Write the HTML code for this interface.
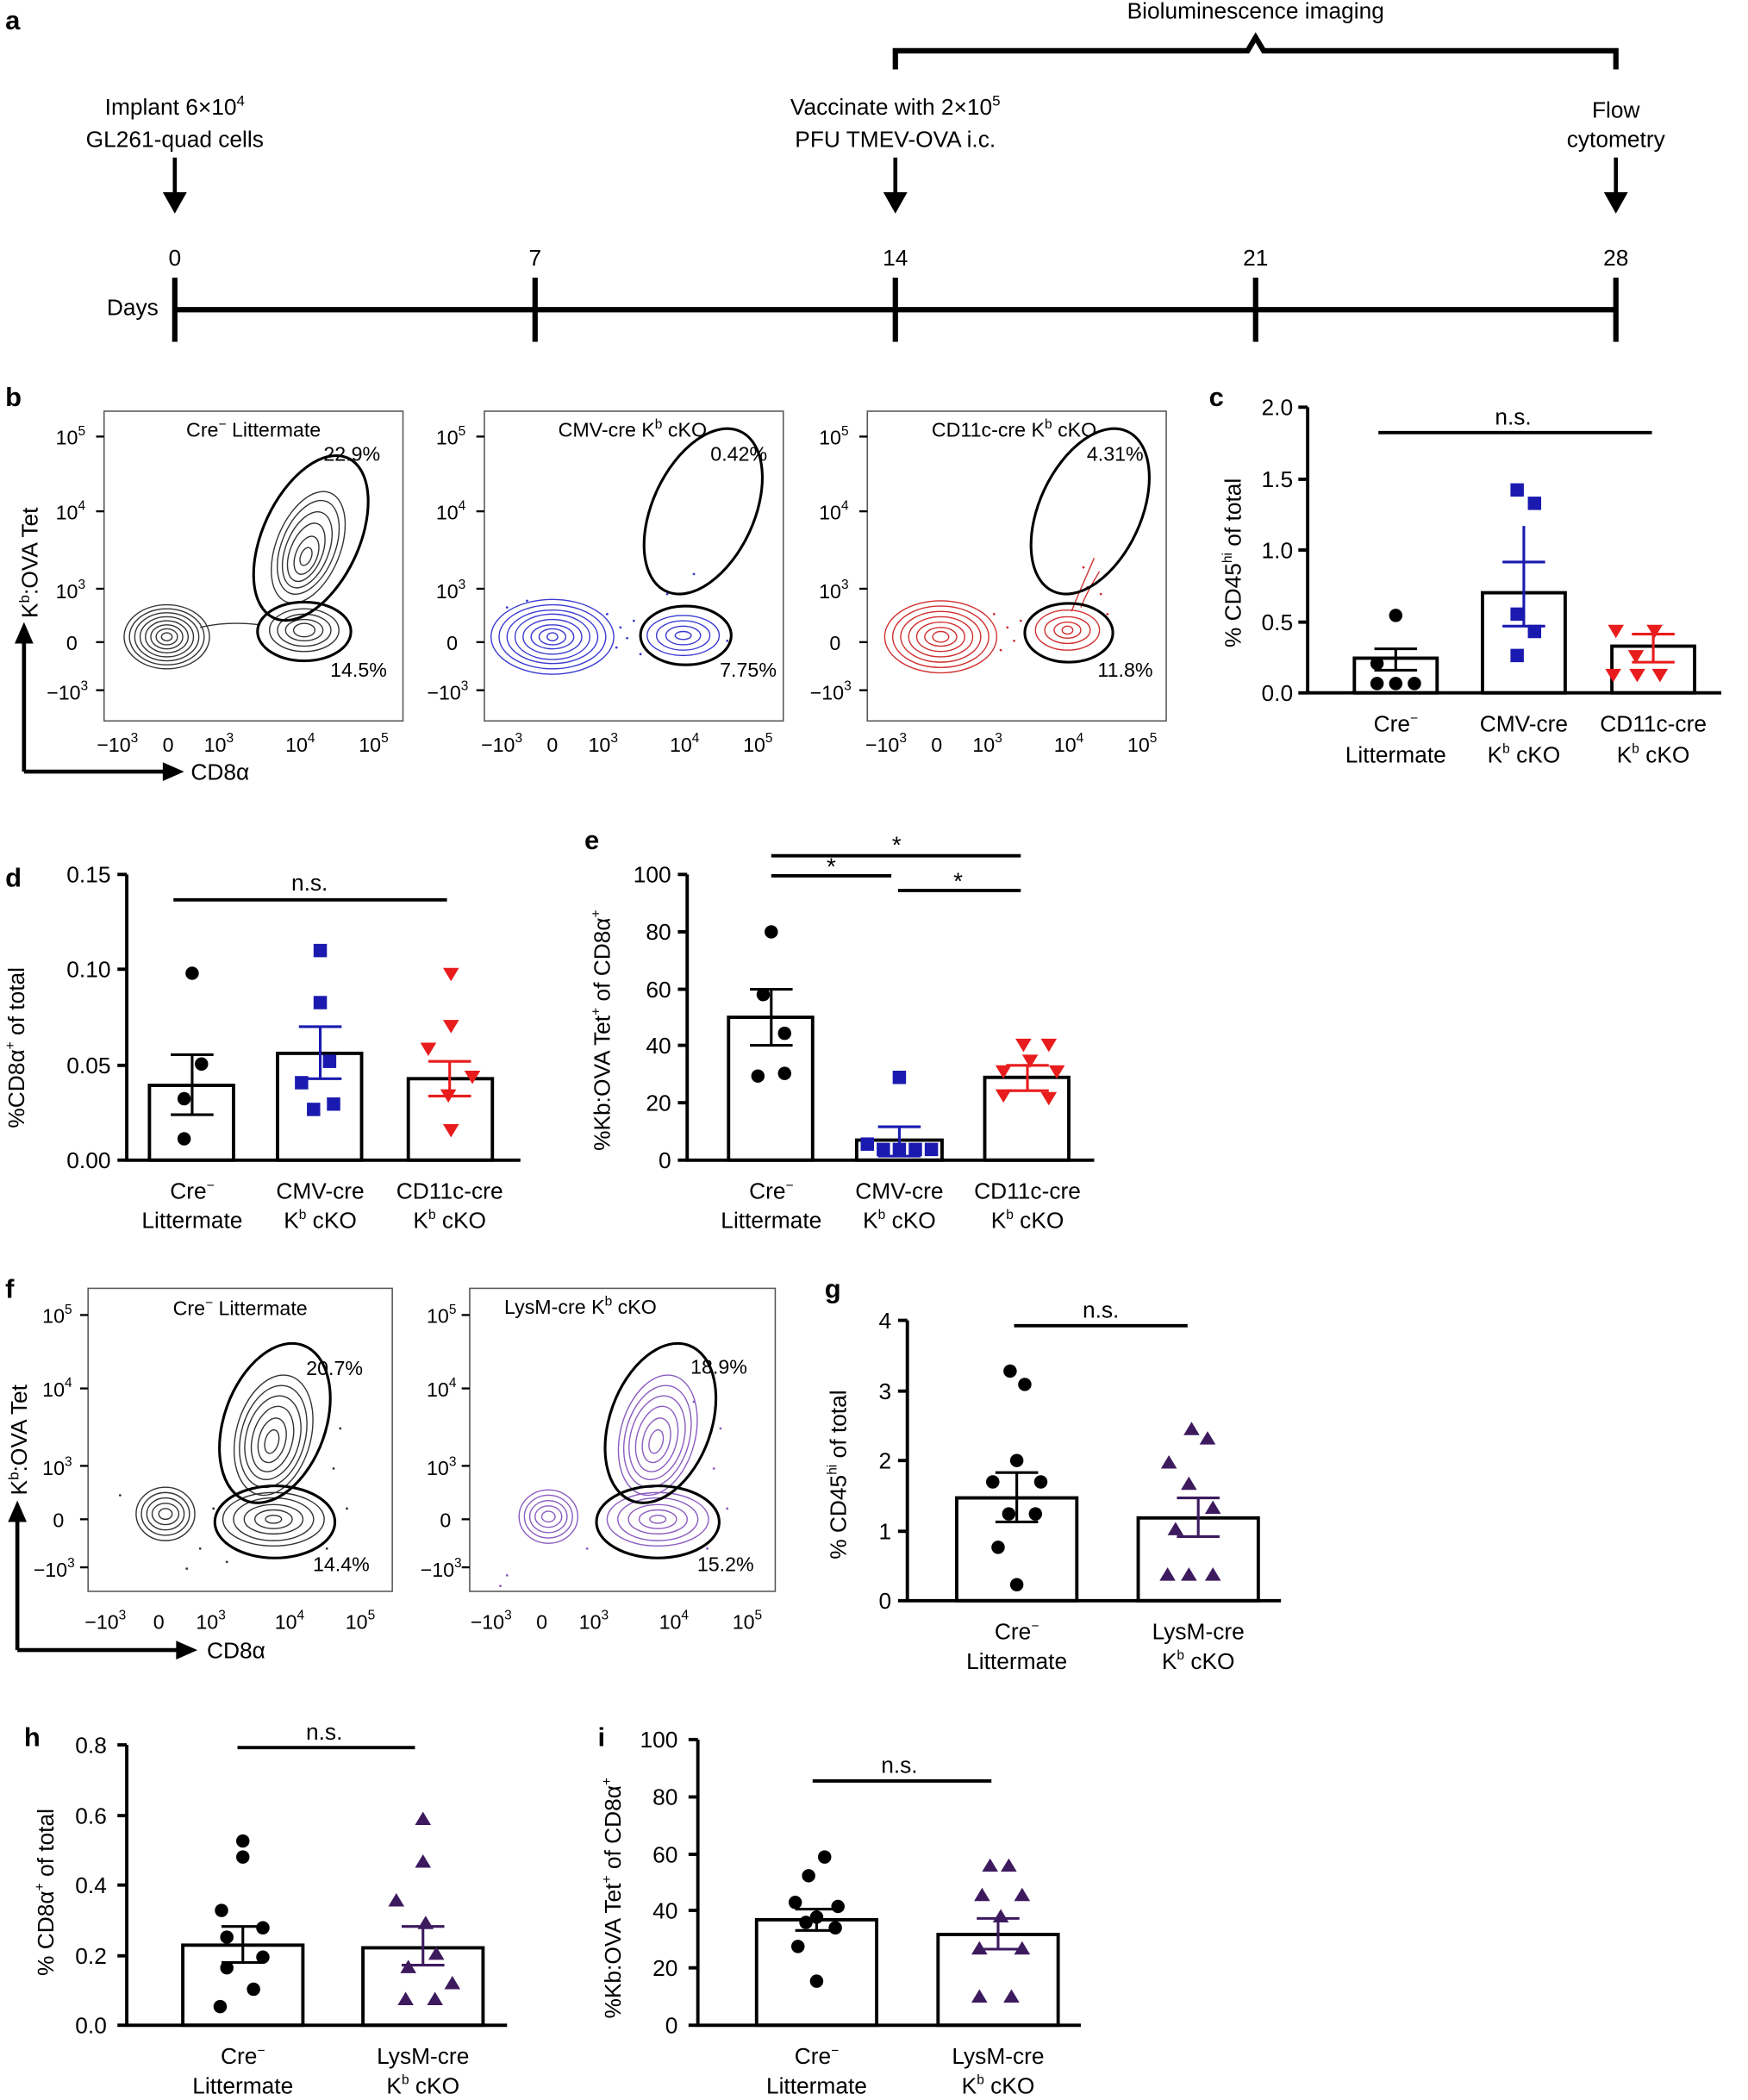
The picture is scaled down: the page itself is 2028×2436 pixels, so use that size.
<!DOCTYPE html>
<html><head><meta charset="utf-8"><style>
html,body{margin:0;padding:0;background:#fff}
svg{display:block}
text{font-family:"Liberation Sans",Arial,sans-serif;fill:#000}
</style></head><body>
<svg xmlns="http://www.w3.org/2000/svg" width="2028" height="2436" viewBox="0 0 1310 1573" preserveAspectRatio="none">
<!-- Panel a -->
<text x="4" y="22" font-size="20" font-weight="bold">a</text>
<text x="941" y="14" font-size="17" text-anchor="middle">Bioluminescence imaging</text>
<path d="M671,52 V38 H935 L941,28 L947,38 H1211 V52" fill="none" stroke="#000" stroke-width="4"/>
<text x="131" y="86" font-size="17" text-anchor="middle">Implant 6×10<tspan font-size="11" dy="-7">4</tspan></text>
<text x="131" y="110" font-size="17" text-anchor="middle">GL261-quad cells</text>
<text x="671" y="86" font-size="17" text-anchor="middle">Vaccinate with 2×10<tspan font-size="11" dy="-7">5</tspan></text>
<text x="671" y="110" font-size="17" text-anchor="middle">PFU TMEV-OVA i.c.</text>
<text x="1211" y="88" font-size="17" text-anchor="middle">Flow</text>
<text x="1211" y="110" font-size="17" text-anchor="middle">cytometry</text>
<g stroke="#000" stroke-width="3"><line x1="131" y1="118" x2="131" y2="146"/><line x1="671" y1="118" x2="671" y2="146"/><line x1="1211" y1="118" x2="1211" y2="146"/></g>
<g fill="#000"><path d="M122,144 L140,144 L131,160z"/><path d="M662,144 L680,144 L671,160z"/><path d="M1202,144 L1220,144 L1211,160z"/></g>
<g font-size="17" text-anchor="middle"><text x="131" y="199">0</text><text x="401" y="199">7</text><text x="671" y="199">14</text><text x="941" y="199">21</text><text x="1211" y="199">28</text></g>
<text x="80" y="236" font-size="17">Days</text>
<g stroke="#000" stroke-width="4"><line x1="131" y1="232" x2="1211" y2="232"/><line x1="131" y1="208" x2="131" y2="256"/><line x1="401" y1="208" x2="401" y2="256"/><line x1="671" y1="208" x2="671" y2="256"/><line x1="941" y1="208" x2="941" y2="256"/><line x1="1211" y1="208" x2="1211" y2="256"/></g>

<!-- Panel b -->
<text x="4" y="304" font-size="20" font-weight="bold">b</text>
<g fill="none" stroke-width="1">
 <rect x="78" y="308" width="224" height="232" stroke="#555"/>
 <rect x="363" y="308" width="224" height="232" stroke="#555"/>
 <rect x="650" y="308" width="224" height="232" stroke="#555"/>
</g>
<g stroke="#000" stroke-width="1.5">
 <line x1="72" y1="327" x2="78" y2="327"/><line x1="72" y1="383" x2="78" y2="383"/><line x1="72" y1="441" x2="78" y2="441"/><line x1="72" y1="481" x2="78" y2="481"/><line x1="72" y1="517" x2="78" y2="517"/>
 <line x1="357" y1="327" x2="363" y2="327"/><line x1="357" y1="383" x2="363" y2="383"/><line x1="357" y1="441" x2="363" y2="441"/><line x1="357" y1="481" x2="363" y2="481"/><line x1="357" y1="517" x2="363" y2="517"/>
 <line x1="644" y1="327" x2="650" y2="327"/><line x1="644" y1="383" x2="650" y2="383"/><line x1="644" y1="441" x2="650" y2="441"/><line x1="644" y1="481" x2="650" y2="481"/><line x1="644" y1="517" x2="650" y2="517"/>
</g>
<g font-size="15" text-anchor="end">
 <text x="64" y="333">10<tspan font-size="10" dy="-7">5</tspan></text><text x="64" y="389">10<tspan font-size="10" dy="-7">4</tspan></text><text x="64" y="448">10<tspan font-size="10" dy="-7">3</tspan></text><text x="58" y="487">0</text><text x="66" y="524">−10<tspan font-size="10" dy="-7">3</tspan></text>
 <text x="349" y="333">10<tspan font-size="10" dy="-7">5</tspan></text><text x="349" y="389">10<tspan font-size="10" dy="-7">4</tspan></text><text x="349" y="448">10<tspan font-size="10" dy="-7">3</tspan></text><text x="343" y="487">0</text><text x="351" y="524">−10<tspan font-size="10" dy="-7">3</tspan></text>
 <text x="636" y="333">10<tspan font-size="10" dy="-7">5</tspan></text><text x="636" y="389">10<tspan font-size="10" dy="-7">4</tspan></text><text x="636" y="448">10<tspan font-size="10" dy="-7">3</tspan></text><text x="630" y="487">0</text><text x="638" y="524">−10<tspan font-size="10" dy="-7">3</tspan></text>
</g>
<g font-size="15" text-anchor="middle">
 <text x="88" y="563">−10<tspan font-size="10" dy="-7">3</tspan></text><text x="126" y="563">0</text><text x="164" y="563">10<tspan font-size="10" dy="-7">3</tspan></text><text x="225" y="563">10<tspan font-size="10" dy="-7">4</tspan></text><text x="280" y="563">10<tspan font-size="10" dy="-7">5</tspan></text>
 <text x="376" y="563">−10<tspan font-size="10" dy="-7">3</tspan></text><text x="414" y="563">0</text><text x="452" y="563">10<tspan font-size="10" dy="-7">3</tspan></text><text x="513" y="563">10<tspan font-size="10" dy="-7">4</tspan></text><text x="568" y="563">10<tspan font-size="10" dy="-7">5</tspan></text>
 <text x="664" y="563">−10<tspan font-size="10" dy="-7">3</tspan></text><text x="702" y="563">0</text><text x="740" y="563">10<tspan font-size="10" dy="-7">3</tspan></text><text x="801" y="563">10<tspan font-size="10" dy="-7">4</tspan></text><text x="856" y="563">10<tspan font-size="10" dy="-7">5</tspan></text>
</g>
<g font-size="15" text-anchor="middle">
 <text x="190" y="327">Cre<tspan font-size="10" dy="-6">−</tspan><tspan dy="6"> Littermate</tspan></text>
 <text x="474" y="327">CMV-cre K<tspan font-size="10" dy="-6">b</tspan><tspan dy="6"> cKO</tspan></text>
 <text x="760" y="327">CD11c-cre K<tspan font-size="10" dy="-6">b</tspan><tspan dy="6"> cKO</tspan></text>
</g>
<g font-size="15" text-anchor="end">
 <text x="285" y="345">22.9%</text><text x="290" y="507">14.5%</text>
 <text x="575" y="345">0.42%</text><text x="582" y="507">7.75%</text>
 <text x="857" y="345">4.31%</text><text x="864" y="507">11.8%</text>
</g>
<!-- contours b -->
<g fill="none" stroke="#333" stroke-width="0.9">
 <ellipse cx="125" cy="477" rx="32" ry="24"/><ellipse cx="125" cy="477" rx="28" ry="21"/><ellipse cx="125" cy="477" rx="24" ry="18"/><ellipse cx="125" cy="477" rx="20" ry="15"/><ellipse cx="125" cy="477" rx="16" ry="12"/><ellipse cx="125" cy="477" rx="12" ry="9"/><ellipse cx="125" cy="477" rx="8" ry="6"/><ellipse cx="125" cy="477" rx="4" ry="3"/>
 <g transform="rotate(22 231 410)"><ellipse cx="231" cy="410" rx="24" ry="44"/><ellipse cx="231" cy="410" rx="20" ry="37"/><ellipse cx="231" cy="412" rx="16" ry="30"/><ellipse cx="231" cy="414" rx="12" ry="23"/><ellipse cx="232" cy="416" rx="8" ry="15"/><ellipse cx="232" cy="417" rx="4" ry="7"/></g>
 <ellipse cx="228" cy="472" rx="26" ry="16"/><ellipse cx="228" cy="472" rx="20" ry="12"/><ellipse cx="228" cy="472" rx="14" ry="8"/><ellipse cx="228" cy="472" rx="8" ry="5"/>
 <path d="M150,470 Q170,465 195,468" />
</g>
<g fill="none" stroke="#3a3ad0" stroke-width="0.9">
 <ellipse cx="414" cy="477" rx="46" ry="28"/><ellipse cx="414" cy="477" rx="40" ry="24"/><ellipse cx="414" cy="477" rx="34" ry="20"/><ellipse cx="414" cy="477" rx="28" ry="17"/><ellipse cx="414" cy="477" rx="22" ry="13"/><ellipse cx="414" cy="477" rx="16" ry="9"/><ellipse cx="414" cy="477" rx="10" ry="6"/><ellipse cx="414" cy="477" rx="4" ry="3"/>
 <ellipse cx="512" cy="476" rx="27" ry="15"/><ellipse cx="512" cy="476" rx="20" ry="11"/><ellipse cx="512" cy="476" rx="13" ry="7"/><ellipse cx="512" cy="476" rx="6" ry="3"/>
</g>
<g fill="#3a3ad0"><circle cx="465" cy="470" r="0.9"/><circle cx="470" cy="478" r="0.9"/><circle cx="475" cy="465" r="0.9"/><circle cx="462" cy="485" r="0.9"/><circle cx="480" cy="490" r="0.9"/><circle cx="540" cy="462" r="0.9"/><circle cx="545" cy="480" r="0.9"/><circle cx="500" cy="445" r="0.9"/><circle cx="520" cy="430" r="0.9"/><circle cx="380" cy="455" r="0.9"/><circle cx="395" cy="450" r="0.9"/><circle cx="455" cy="460" r="0.9"/></g>
<g fill="none" stroke="#d03030" stroke-width="0.9">
 <ellipse cx="705" cy="477" rx="42" ry="27"/><ellipse cx="705" cy="477" rx="36" ry="23"/><ellipse cx="705" cy="477" rx="30" ry="19"/><ellipse cx="705" cy="477" rx="24" ry="15"/><ellipse cx="705" cy="477" rx="18" ry="11"/><ellipse cx="705" cy="477" rx="12" ry="7"/><ellipse cx="705" cy="477" rx="6" ry="4"/>
 <ellipse cx="800" cy="472" rx="24" ry="15"/><ellipse cx="800" cy="472" rx="17" ry="10"/><ellipse cx="800" cy="472" rx="10" ry="6"/><ellipse cx="800" cy="472" rx="4" ry="3"/>
 <path d="M803,458 C808,445 814,432 820,418 M810,455 C814,445 818,438 824,428" />
</g>
<g fill="#d03030"><circle cx="755" cy="470" r="0.9"/><circle cx="760" cy="480" r="0.9"/><circle cx="765" cy="465" r="0.9"/><circle cx="750" cy="487" r="0.9"/><circle cx="815" cy="440" r="0.9"/><circle cx="825" cy="445" r="0.9"/><circle cx="812" cy="425" r="0.9"/><circle cx="830" cy="460" r="0.9"/><circle cx="745" cy="460" r="0.9"/></g>
<g fill="none" stroke="#000" stroke-width="2">
 <ellipse cx="233" cy="403" rx="36" ry="66" transform="rotate(25 233 403)"/><ellipse cx="228" cy="473" rx="35" ry="22"/>
 <ellipse cx="527" cy="383" rx="38" ry="66" transform="rotate(25 527 383)"/><ellipse cx="514" cy="476" rx="34" ry="22"/>
 <ellipse cx="817" cy="383" rx="38" ry="66" transform="rotate(25 817 383)"/><ellipse cx="801" cy="474" rx="33" ry="22"/>
</g>
<g stroke="#000" stroke-width="3"><line x1="18" y1="578" x2="18" y2="478"/><line x1="18" y1="578" x2="124" y2="578"/></g>
<path d="M11,482 L25,482 L18,466z M122,571 L122,585 L138,578z" fill="#000"/>
<text x="143" y="584" font-size="17">CD8α</text>
<text transform="translate(28,463) rotate(-90)" font-size="17">K<tspan font-size="11" dy="-6">b</tspan><tspan dy="6">:OVA Tet</tspan></text>

<g font-size="17">
<!-- Panel c -->
<text x="906" y="304" font-size="20" font-weight="bold">c</text>
<g stroke="#000" stroke-width="2.5" fill="none">
 <line x1="980" y1="305" x2="980" y2="520"/><line x1="979" y1="519" x2="1290" y2="519"/>
 <line x1="973" y1="305" x2="980" y2="305"/><line x1="973" y1="359" x2="980" y2="359"/><line x1="973" y1="412" x2="980" y2="412"/><line x1="973" y1="466" x2="980" y2="466"/><line x1="973" y1="519" x2="980" y2="519"/>
 <rect x="1015" y="493" width="62" height="26"/><rect x="1111" y="444" width="62" height="75"/><rect x="1208" y="484" width="62" height="35"/>
 <line x1="1033" y1="324" x2="1238" y2="324"/>
</g>
<g text-anchor="end"><text x="969" y="311">2.0</text><text x="969" y="365">1.5</text><text x="969" y="418">1.0</text><text x="969" y="472">0.5</text><text x="969" y="525">0.0</text></g>
<text x="1134" y="318" text-anchor="middle">n.s.</text>
<text transform="translate(930,485) rotate(-90)">% CD45<tspan font-size="10" dy="-7">hi</tspan><tspan dy="7"> of total</tspan></text>
<g stroke-width="2" fill="none">
 <path d="M1046,486 V502 M1030,486 H1062 M1030,502 H1062" stroke="#000"/>
 <path d="M1142,394 V469 M1126,421 H1158 M1126,469 H1158" stroke="#1a1ab0"/>
 <path d="M1239,475 V496 M1223,475 H1255 M1223,496 H1255" stroke="#e81c1c"/>
</g>
<g fill="#000"><circle cx="1046" cy="461" r="5"/><circle cx="1032" cy="497" r="5"/><circle cx="1046" cy="512" r="5"/><circle cx="1060" cy="512" r="5"/><circle cx="1032" cy="512" r="5"/></g>
<g fill="#1a1ab0"><rect x="1132" y="362" width="10" height="10"/><rect x="1145" y="372" width="10" height="10"/><rect x="1132" y="455" width="10" height="10"/><rect x="1145" y="468" width="10" height="10"/><rect x="1132" y="486" width="10" height="10"/></g>
<g fill="#e81c1c"><path d="M1205,468 h12 l-6,10z M1234,468 h12 l-6,10z M1220,487 h12 l-6,10z M1203,501 h12 l-6,10z M1221,501 h12 l-6,10z M1238,501 h12 l-6,10z"/></g>
<g text-anchor="middle"><text x="1046" y="548">Cre<tspan font-size="10" dy="-7">−</tspan></text><text x="1046" y="571">Littermate</text>
<text x="1142" y="548">CMV-cre</text><text x="1142" y="571">K<tspan font-size="10" dy="-7">b</tspan><tspan dy="7"> cKO</tspan></text>
<text x="1239" y="548">CD11c-cre</text><text x="1239" y="571">K<tspan font-size="10" dy="-7">b</tspan><tspan dy="7"> cKO</tspan></text></g>

<!-- Panel d -->
<text x="4" y="664" font-size="20" font-weight="bold">d</text>
<g stroke="#000" stroke-width="2.5" fill="none">
 <line x1="95" y1="655" x2="95" y2="870"/><line x1="94" y1="869" x2="390" y2="869"/>
 <line x1="88" y1="655" x2="95" y2="655"/><line x1="88" y1="726" x2="95" y2="726"/><line x1="88" y1="798" x2="95" y2="798"/><line x1="88" y1="869" x2="95" y2="869"/>
 <rect x="112" y="813" width="63" height="56"/><rect x="208" y="789" width="63" height="80"/><rect x="306" y="808" width="63" height="61"/>
 <line x1="130" y1="674" x2="335" y2="674"/>
</g>
<g text-anchor="end"><text x="83" y="661">0.15</text><text x="83" y="732">0.10</text><text x="83" y="804">0.05</text><text x="83" y="875">0.00</text></g>
<text x="232" y="667" text-anchor="middle">n.s.</text>
<text transform="translate(18,845) rotate(-90)">%CD8α<tspan font-size="10" dy="-7">+</tspan><tspan dy="7"> of total</tspan></text>
<g stroke-width="2" fill="none">
 <path d="M144,790 V835 M128,790 H160 M128,835 H160" stroke="#000"/>
 <path d="M240,769 V808 M224,769 H256 M224,808 H256" stroke="#1a1ab0"/>
 <path d="M337,795 V821 M321,795 H353 M321,821 H353" stroke="#e81c1c"/>
</g>
<g fill="#000"><circle cx="144" cy="729" r="5"/><circle cx="151" cy="797" r="5"/><circle cx="138" cy="823" r="5"/><circle cx="138" cy="853" r="5"/></g>
<g fill="#1a1ab0"><rect x="235" y="707" width="10" height="10"/><rect x="235" y="746" width="10" height="10"/><rect x="242" y="790" width="10" height="10"/><rect x="221" y="806" width="10" height="10"/><rect x="245" y="822" width="10" height="10"/><rect x="230" y="826" width="10" height="10"/></g>
<g fill="#e81c1c"><path d="M332,725 h12 l-6,10z M332,764 h12 l-6,10z M315,781 h12 l-6,10z M348,802 h12 l-6,10z M330,816 h12 l-6,10z M332,842 h12 l-6,10z"/></g>
<g text-anchor="middle"><text x="144" y="898">Cre<tspan font-size="10" dy="-7">−</tspan></text><text x="144" y="920">Littermate</text>
<text x="240" y="898">CMV-cre</text><text x="240" y="920">K<tspan font-size="10" dy="-7">b</tspan><tspan dy="7"> cKO</tspan></text>
<text x="337" y="898">CD11c-cre</text><text x="337" y="920">K<tspan font-size="10" dy="-7">b</tspan><tspan dy="7"> cKO</tspan></text></g>

<!-- Panel e -->
<text x="438" y="636" font-size="20" font-weight="bold">e</text>
<g stroke="#000" stroke-width="2.5" fill="none">
 <line x1="515" y1="655" x2="515" y2="870"/><line x1="514" y1="869" x2="820" y2="869"/>
 <line x1="508" y1="655" x2="515" y2="655"/><line x1="508" y1="698" x2="515" y2="698"/><line x1="508" y1="741" x2="515" y2="741"/><line x1="508" y1="783" x2="515" y2="783"/><line x1="508" y1="826" x2="515" y2="826"/><line x1="508" y1="869" x2="515" y2="869"/>
 <rect x="546" y="762" width="63" height="107"/><rect x="642" y="854" width="64" height="15"/><rect x="738" y="807" width="63" height="62"/>
 <line x1="578" y1="641" x2="765" y2="641"/><line x1="578" y1="656" x2="668" y2="656"/><line x1="673" y1="667" x2="765" y2="667"/>
</g>
<g text-anchor="end"><text x="503" y="661">100</text><text x="503" y="704">80</text><text x="503" y="747">60</text><text x="503" y="789">40</text><text x="503" y="832">20</text><text x="503" y="875">0</text></g>
<g text-anchor="middle" font-size="18"><text x="672" y="639">*</text><text x="623" y="655">*</text><text x="718" y="666">*</text></g>
<text transform="translate(457,862) rotate(-90)">%Kb:OVA Tet<tspan font-size="10" dy="-7">+</tspan><tspan dy="7"> of CD8α</tspan><tspan font-size="10" dy="-7">+</tspan></text>
<g stroke-width="2" fill="none">
 <path d="M578,741 V783 M562,741 H594 M562,783 H594" stroke="#000"/>
 <path d="M674,844 V866 M658,844 H690 M658,866 H690" stroke="#1a1ab0"/>
 <path d="M770,798 V817 M754,798 H786 M754,817 H786" stroke="#e81c1c"/>
</g>
<g fill="#000"><circle cx="578" cy="698" r="5"/><circle cx="572" cy="745" r="5"/><circle cx="588" cy="774" r="5"/><circle cx="568" cy="806" r="5"/><circle cx="588" cy="804" r="5"/></g>
<g fill="#1a1ab0"><rect x="669" y="802" width="10" height="10"/><rect x="645" y="852" width="10" height="10"/><rect x="657" y="856" width="10" height="10"/><rect x="669" y="856" width="10" height="10"/><rect x="681" y="856" width="10" height="10"/><rect x="693" y="856" width="10" height="10"/></g>
<g fill="#e81c1c"><path d="M761,778 h12 l-6,10z M780,778 h12 l-6,10z M766,790 h12 l-6,10z M746,798 h12 l-6,10z M786,798 h12 l-6,10z M746,816 h12 l-6,10z M780,818 h12 l-6,10z"/></g>
<g text-anchor="middle"><text x="578" y="898">Cre<tspan font-size="10" dy="-7">−</tspan></text><text x="578" y="920">Littermate</text>
<text x="674" y="898">CMV-cre</text><text x="674" y="920">K<tspan font-size="10" dy="-7">b</tspan><tspan dy="7"> cKO</tspan></text>
<text x="770" y="898">CD11c-cre</text><text x="770" y="920">K<tspan font-size="10" dy="-7">b</tspan><tspan dy="7"> cKO</tspan></text></g>
</g>

<!-- Panel f -->
<text x="4" y="972" font-size="20" font-weight="bold">f</text>
<g fill="none" stroke="#555" stroke-width="1"><rect x="66" y="965" width="228" height="227"/><rect x="352" y="965" width="229" height="227"/></g>
<g stroke="#000" stroke-width="1.5">
 <line x1="60" y1="985" x2="66" y2="985"/><line x1="60" y1="1040" x2="66" y2="1040"/><line x1="60" y1="1098" x2="66" y2="1098"/><line x1="60" y1="1138" x2="66" y2="1138"/><line x1="60" y1="1174" x2="66" y2="1174"/>
 <line x1="346" y1="985" x2="352" y2="985"/><line x1="346" y1="1040" x2="352" y2="1040"/><line x1="346" y1="1098" x2="352" y2="1098"/><line x1="346" y1="1138" x2="352" y2="1138"/><line x1="346" y1="1174" x2="352" y2="1174"/>
</g>
<g font-size="15" text-anchor="end">
 <text x="54" y="991">10<tspan font-size="10" dy="-7">5</tspan></text><text x="54" y="1046">10<tspan font-size="10" dy="-7">4</tspan></text><text x="54" y="1105">10<tspan font-size="10" dy="-7">3</tspan></text><text x="48" y="1144">0</text><text x="56" y="1181">−10<tspan font-size="10" dy="-7">3</tspan></text>
 <text x="342" y="991">10<tspan font-size="10" dy="-7">5</tspan></text><text x="342" y="1046">10<tspan font-size="10" dy="-7">4</tspan></text><text x="342" y="1105">10<tspan font-size="10" dy="-7">3</tspan></text><text x="338" y="1144">0</text><text x="346" y="1181">−10<tspan font-size="10" dy="-7">3</tspan></text>
</g>
<g font-size="15" text-anchor="middle">
 <text x="79" y="1220">−10<tspan font-size="10" dy="-7">3</tspan></text><text x="119" y="1220">0</text><text x="158" y="1220">10<tspan font-size="10" dy="-7">3</tspan></text><text x="217" y="1220">10<tspan font-size="10" dy="-7">4</tspan></text><text x="270" y="1220">10<tspan font-size="10" dy="-7">5</tspan></text>
 <text x="368" y="1220">−10<tspan font-size="10" dy="-7">3</tspan></text><text x="406" y="1220">0</text><text x="445" y="1220">10<tspan font-size="10" dy="-7">3</tspan></text><text x="505" y="1220">10<tspan font-size="10" dy="-7">4</tspan></text><text x="560" y="1220">10<tspan font-size="10" dy="-7">5</tspan></text>
</g>
<g font-size="15">
 <text x="180" y="985" text-anchor="middle">Cre<tspan font-size="10" dy="-6">−</tspan><tspan dy="6"> Littermate</tspan></text>
 <text x="435" y="984" text-anchor="middle">LysM-cre K<tspan font-size="10" dy="-6">b</tspan><tspan dy="6"> cKO</tspan></text>
 <text x="272" y="1030" text-anchor="end">20.7%</text><text x="277" y="1177" text-anchor="end">14.4%</text>
 <text x="560" y="1029" text-anchor="end">18.9%</text><text x="565" y="1177" text-anchor="end">15.2%</text>
</g>
<g fill="none" stroke="#333" stroke-width="0.9">
 <ellipse cx="124" cy="1134" rx="22" ry="20"/><ellipse cx="124" cy="1134" rx="18" ry="16"/><ellipse cx="124" cy="1134" rx="14" ry="12"/><ellipse cx="124" cy="1134" rx="10" ry="8"/><ellipse cx="124" cy="1134" rx="5" ry="4"/>
 <g transform="rotate(15 205 1075)"><ellipse cx="205" cy="1075" rx="28" ry="46"/><ellipse cx="205" cy="1076" rx="24" ry="39"/><ellipse cx="205" cy="1077" rx="20" ry="32"/><ellipse cx="205" cy="1078" rx="15" ry="25"/><ellipse cx="205" cy="1079" rx="10" ry="17"/><ellipse cx="205" cy="1080" rx="5" ry="9"/></g>
 <ellipse cx="205" cy="1138" rx="38" ry="20"/><ellipse cx="205" cy="1138" rx="30" ry="16"/><ellipse cx="205" cy="1138" rx="22" ry="11"/><ellipse cx="205" cy="1138" rx="14" ry="7"/><ellipse cx="205" cy="1138" rx="6" ry="3"/>
</g>
<g fill="#333"><circle cx="90" cy="1120" r="0.9"/><circle cx="150" cy="1160" r="0.9"/><circle cx="160" cy="1130" r="0.9"/><circle cx="250" cy="1100" r="0.9"/><circle cx="245" cy="1160" r="0.9"/><circle cx="255" cy="1070" r="0.9"/><circle cx="170" cy="1170" r="0.9"/><circle cx="140" cy="1175" r="0.9"/><circle cx="260" cy="1130" r="0.9"/></g>
<g fill="none" stroke="#8a5cc0" stroke-width="0.9">
 <ellipse cx="411" cy="1136" rx="22" ry="20"/><ellipse cx="411" cy="1136" rx="18" ry="16"/><ellipse cx="411" cy="1136" rx="14" ry="12"/><ellipse cx="411" cy="1136" rx="10" ry="8"/><ellipse cx="411" cy="1136" rx="5" ry="4"/>
 <g transform="rotate(15 493 1075)"><ellipse cx="493" cy="1075" rx="28" ry="46"/><ellipse cx="493" cy="1076" rx="24" ry="39"/><ellipse cx="493" cy="1077" rx="20" ry="32"/><ellipse cx="493" cy="1078" rx="15" ry="25"/><ellipse cx="493" cy="1079" rx="10" ry="17"/><ellipse cx="493" cy="1080" rx="5" ry="9"/></g>
 <ellipse cx="493" cy="1138" rx="38" ry="20"/><ellipse cx="493" cy="1138" rx="30" ry="16"/><ellipse cx="493" cy="1138" rx="22" ry="11"/><ellipse cx="493" cy="1138" rx="14" ry="7"/><ellipse cx="493" cy="1138" rx="6" ry="3"/>
</g>
<g fill="#8a5cc0"><circle cx="380" cy="1180" r="0.9"/><circle cx="375" cy="1188" r="0.9"/><circle cx="440" cy="1160" r="0.9"/><circle cx="450" cy="1130" r="0.9"/><circle cx="535" cy="1100" r="0.9"/><circle cx="530" cy="1160" r="0.9"/><circle cx="540" cy="1070" r="0.9"/><circle cx="545" cy="1130" r="0.9"/><circle cx="520" cy="1050" r="0.9"/></g>
<g fill="none" stroke="#000" stroke-width="2">
 <ellipse cx="206" cy="1066" rx="38" ry="62" transform="rotate(20 206 1066)"/><ellipse cx="206" cy="1140" rx="45" ry="27"/>
 <ellipse cx="495" cy="1066" rx="38" ry="62" transform="rotate(20 495 1066)"/><ellipse cx="493" cy="1140" rx="46" ry="27"/>
</g>
<g stroke="#000" stroke-width="3"><line x1="13" y1="1236" x2="13" y2="1136"/><line x1="13" y1="1236" x2="134" y2="1236"/></g>
<path d="M6,1140 L20,1140 L13,1124z M132,1229 L132,1243 L148,1236z" fill="#000"/>
<text x="155" y="1242" font-size="17">CD8α</text>
<text transform="translate(20,1120) rotate(-90)" font-size="17">K<tspan font-size="11" dy="-6">b</tspan><tspan dy="6">:OVA Tet</tspan></text>

<g font-size="17">
<!-- Panel g -->
<text x="618" y="972" font-size="20" font-weight="bold">g</text>
<g stroke="#000" stroke-width="2.5" fill="none">
 <line x1="680" y1="989" x2="680" y2="1200"/><line x1="679" y1="1199" x2="960" y2="1199"/>
 <line x1="673" y1="989" x2="680" y2="989"/><line x1="673" y1="1042" x2="680" y2="1042"/><line x1="673" y1="1094" x2="680" y2="1094"/><line x1="673" y1="1147" x2="680" y2="1147"/><line x1="673" y1="1199" x2="680" y2="1199"/>
 <rect x="717" y="1122" width="90" height="77"/><rect x="853" y="1137" width="90" height="62"/>
 <line x1="760" y1="993" x2="890" y2="993"/>
</g>
<g text-anchor="end"><text x="668" y="995">4</text><text x="668" y="1048">3</text><text x="668" y="1100">2</text><text x="668" y="1153">1</text><text x="668" y="1205">0</text></g>
<text x="825" y="987" text-anchor="middle">n.s.</text>
<text transform="translate(634,1168) rotate(-90)">% CD45<tspan font-size="10" dy="-7">hi</tspan><tspan dy="7"> of total</tspan></text>
<path d="M762,1103 V1140 M746,1103 H778 M746,1140 H778" stroke="#000" stroke-width="2" fill="none"/>
<path d="M898,1122 V1151 M882,1122 H914 M882,1151 H914" stroke="#3d1a5e" stroke-width="2" fill="none"/>
<g fill="#000"><circle cx="757" cy="1027" r="5"/><circle cx="768" cy="1037" r="5"/><circle cx="762" cy="1094" r="5"/><circle cx="744" cy="1110" r="5"/><circle cx="780" cy="1110" r="5"/><circle cx="756" cy="1134" r="5"/><circle cx="776" cy="1134" r="5"/><circle cx="748" cy="1159" r="5"/><circle cx="762" cy="1187" r="5"/></g>
<g fill="#3d1a5e"><path d="M887,1075 l6,-10 l6,10z M899,1082 l6,-10 l6,10z M870,1100 l6,-10 l6,10z M885,1116 l6,-10 l6,10z M903,1134 l6,-10 l6,10z M875,1150 l6,-10 l6,10z M869,1184 l6,-10 l6,10z M885,1184 l6,-10 l6,10z M903,1184 l6,-10 l6,10z"/></g>
<g text-anchor="middle"><text x="762" y="1228">Cre<tspan font-size="10" dy="-7">−</tspan></text><text x="762" y="1250">Littermate</text>
<text x="898" y="1228">LysM-cre</text><text x="898" y="1250">K<tspan font-size="10" dy="-7">b</tspan><tspan dy="7"> cKO</tspan></text></g>

<!-- Panel h -->
<text x="18" y="1308" font-size="20" font-weight="bold">h</text>
<g stroke="#000" stroke-width="2.5" fill="none">
 <line x1="95" y1="1307" x2="95" y2="1518"/><line x1="94" y1="1517" x2="380" y2="1517"/>
 <line x1="88" y1="1307" x2="95" y2="1307"/><line x1="88" y1="1360" x2="95" y2="1360"/><line x1="88" y1="1412" x2="95" y2="1412"/><line x1="88" y1="1465" x2="95" y2="1465"/><line x1="88" y1="1517" x2="95" y2="1517"/>
 <rect x="137" y="1457" width="90" height="60"/><rect x="272" y="1459" width="90" height="58"/>
 <line x1="178" y1="1309" x2="311" y2="1309"/>
</g>
<g text-anchor="end"><text x="80" y="1313">0.8</text><text x="80" y="1366">0.6</text><text x="80" y="1418">0.4</text><text x="80" y="1471">0.2</text><text x="80" y="1523">0.0</text></g>
<text x="243" y="1303" text-anchor="middle">n.s.</text>
<text transform="translate(40,1480) rotate(-90)">% CD8α<tspan font-size="10" dy="-7">+</tspan><tspan dy="7"> of total</tspan></text>
<path d="M182,1443 V1470 M166,1443 H198 M166,1470 H198" stroke="#000" stroke-width="2" fill="none"/>
<path d="M317,1443 V1472 M301,1443 H333 M301,1472 H333" stroke="#3d1a5e" stroke-width="2" fill="none"/>
<g fill="#000"><circle cx="182" cy="1379" r="5"/><circle cx="182" cy="1391" r="5"/><circle cx="166" cy="1431" r="5"/><circle cx="170" cy="1451" r="5"/><circle cx="197" cy="1444" r="5"/><circle cx="197" cy="1466" r="5"/><circle cx="170" cy="1474" r="5"/><circle cx="190" cy="1490" r="5"/><circle cx="165" cy="1503" r="5"/></g>
<g fill="#3d1a5e"><path d="M311,1367 l6,-10 l6,10z M311,1399 l6,-10 l6,10z M291,1428 l6,-10 l6,10z M313,1445 l6,-10 l6,10z M321,1468 l6,-10 l6,10z M300,1478 l6,-10 l6,10z M333,1490 l6,-10 l6,10z M298,1502 l6,-10 l6,10z M320,1502 l6,-10 l6,10z"/></g>
<g text-anchor="middle"><text x="182" y="1546">Cre<tspan font-size="10" dy="-7">−</tspan></text><text x="182" y="1568">Littermate</text>
<text x="317" y="1546">LysM-cre</text><text x="317" y="1568">K<tspan font-size="10" dy="-7">b</tspan><tspan dy="7"> cKO</tspan></text></g>

<!-- Panel i -->
<text x="448" y="1308" font-size="20" font-weight="bold">i</text>
<g stroke="#000" stroke-width="2.5" fill="none">
 <line x1="523" y1="1303" x2="523" y2="1518"/><line x1="522" y1="1517" x2="810" y2="1517"/>
 <line x1="516" y1="1303" x2="523" y2="1303"/><line x1="516" y1="1346" x2="523" y2="1346"/><line x1="516" y1="1389" x2="523" y2="1389"/><line x1="516" y1="1431" x2="523" y2="1431"/><line x1="516" y1="1474" x2="523" y2="1474"/><line x1="516" y1="1517" x2="523" y2="1517"/>
 <rect x="567" y="1438" width="90" height="79"/><rect x="703" y="1449" width="90" height="68"/>
 <line x1="609" y1="1334" x2="743" y2="1334"/>
</g>
<g text-anchor="end"><text x="508" y="1309">100</text><text x="508" y="1352">80</text><text x="508" y="1395">60</text><text x="508" y="1437">40</text><text x="508" y="1480">20</text><text x="508" y="1523">0</text></g>
<text x="674" y="1328" text-anchor="middle">n.s.</text>
<text transform="translate(465,1512) rotate(-90)">%Kb:OVA Tet<tspan font-size="10" dy="-7">+</tspan><tspan dy="7"> of CD8α</tspan><tspan font-size="10" dy="-7">+</tspan></text>
<path d="M612,1430 V1446 M596,1430 H628 M596,1446 H628" stroke="#000" stroke-width="2" fill="none"/>
<path d="M748,1437 V1460 M732,1437 H764 M732,1460 H764" stroke="#3d1a5e" stroke-width="2" fill="none"/>
<g fill="#000"><circle cx="618" cy="1391" r="5"/><circle cx="606" cy="1405" r="5"/><circle cx="596" cy="1425" r="5"/><circle cx="628" cy="1428" r="5"/><circle cx="612" cy="1436" r="5"/><circle cx="604" cy="1440" r="5"/><circle cx="626" cy="1444" r="5"/><circle cx="598" cy="1458" r="5"/><circle cx="612" cy="1484" r="5"/></g>
<g fill="#3d1a5e"><path d="M736,1402 l6,-10 l6,10z M750,1402 l6,-10 l6,10z M730,1424 l6,-10 l6,10z M760,1424 l6,-10 l6,10z M744,1440 l6,-10 l6,10z M728,1464 l6,-10 l6,10z M760,1464 l6,-10 l6,10z M728,1500 l6,-10 l6,10z M752,1500 l6,-10 l6,10z"/></g>
<g text-anchor="middle"><text x="612" y="1546">Cre<tspan font-size="10" dy="-7">−</tspan></text><text x="612" y="1568">Littermate</text>
<text x="748" y="1546">LysM-cre</text><text x="748" y="1568">K<tspan font-size="10" dy="-7">b</tspan><tspan dy="7"> cKO</tspan></text></g>
</g>
</svg>
</body></html>
